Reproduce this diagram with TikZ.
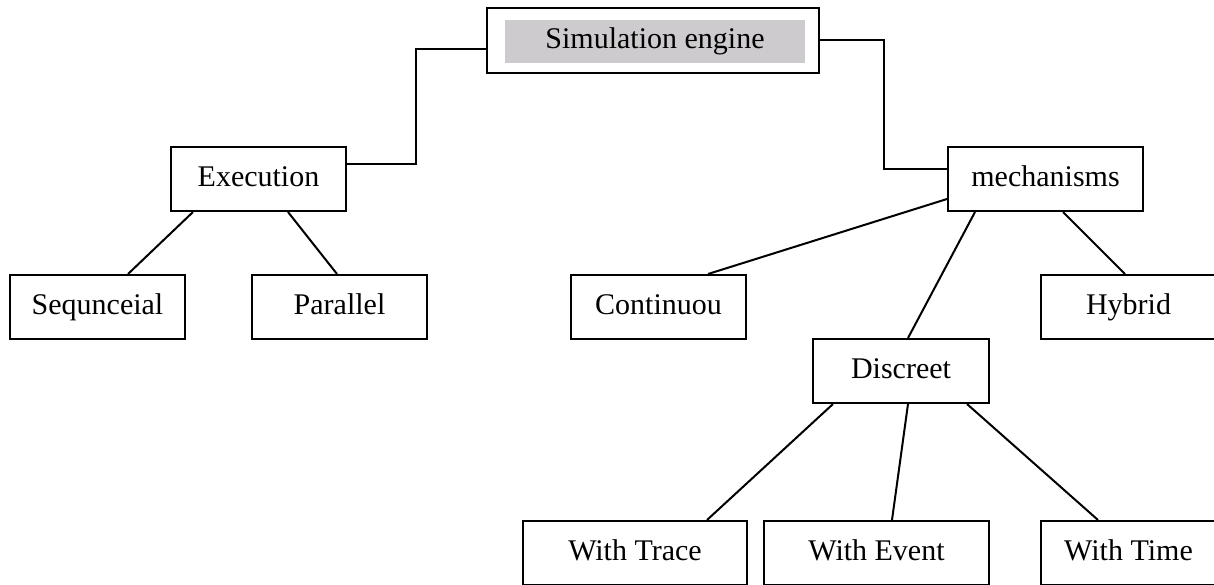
\documentclass[tikz,border=0pt]{standalone}
\usepackage{fontspec}
\setmainfont{Liberation Serif}
\definecolor{titlegray}{RGB}{205,203,205}
\begin{document}
\begin{tikzpicture}[x=0.5pt,y=-0.5pt,
  label font/.style={font=\fontsize{15}{18}\selectfont,text height=10pt,text depth=3pt},
  box/.style={draw,line width=1pt,rectangle,inner sep=0pt,
    minimum height=32pt,label font},
  link/.style={line width=1pt}]
\useasboundingbox (0,0) rectangle (1214,584);
\clip (0,0) rectangle (1214,584);

% title block with grey band
\node[box,minimum width=166pt,minimum height=32.5pt] (top) at (653,40.5) {};
\fill[titlegray] (505,20) rectangle (805,63);
\node[label font,inner sep=0pt] (toptext) at (655,41.5) {Simulation engine};

% second level
\node[box,minimum width=87.5pt] (exec) at (258.5,179) {Execution};
\node[box,minimum width=97.5pt] (mech) at (1045.5,179) {mechanisms};

% execution branch
\node[box,minimum width=87.5pt] (seq) at (97.5,307) {Sequnceial};
\node[box,minimum width=87.5pt] (par) at (339.5,307) {Parallel};

% mechanisms branch
\node[box,minimum width=87.5pt] (cont) at (658.5,307) {Continuou};
\node[box,minimum width=87.5pt] (hyb) at (1128.5,307) {Hybrid};
\node[box,minimum width=88pt] (disc) at (901,371) {Discreet};

% discrete variants
\node[box,minimum width=112pt] (trace) at (635,553) {With Trace};
\node[box,minimum width=112.5pt] (event) at (876.5,553) {With Event};
\node[box,minimum width=87.5pt] (time) at (1128.5,553) {With Time};

% elbow connectors from the title
\draw[link] (top.west |- 0,49) -- (416,49) |- (exec.east |- 0,164);
\draw[link] (top.east |- 0,40) -- (884,40) |- (mech.west |- 0,169);

% straight connectors
\draw[link] (193,0 |- exec.south) -- (128,0 |- seq.north);
\draw[link] (288,0 |- exec.south) -- (337,0 |- par.north);
\draw[link] (mech.west |- 0,199) -- (708,0 |- cont.north);
\draw[link] (975,0 |- mech.south) -- (908,0 |- disc.north);
\draw[link] (1063,0 |- mech.south) -- (1125,0 |- hyb.north);
\draw[link] (833,0 |- disc.south) -- (707,0 |- trace.north);
\draw[link] (908,0 |- disc.south) -- (892,0 |- event.north);
\draw[link] (967,0 |- disc.south) -- (1098,0 |- time.north);
\end{tikzpicture}
\end{document}
